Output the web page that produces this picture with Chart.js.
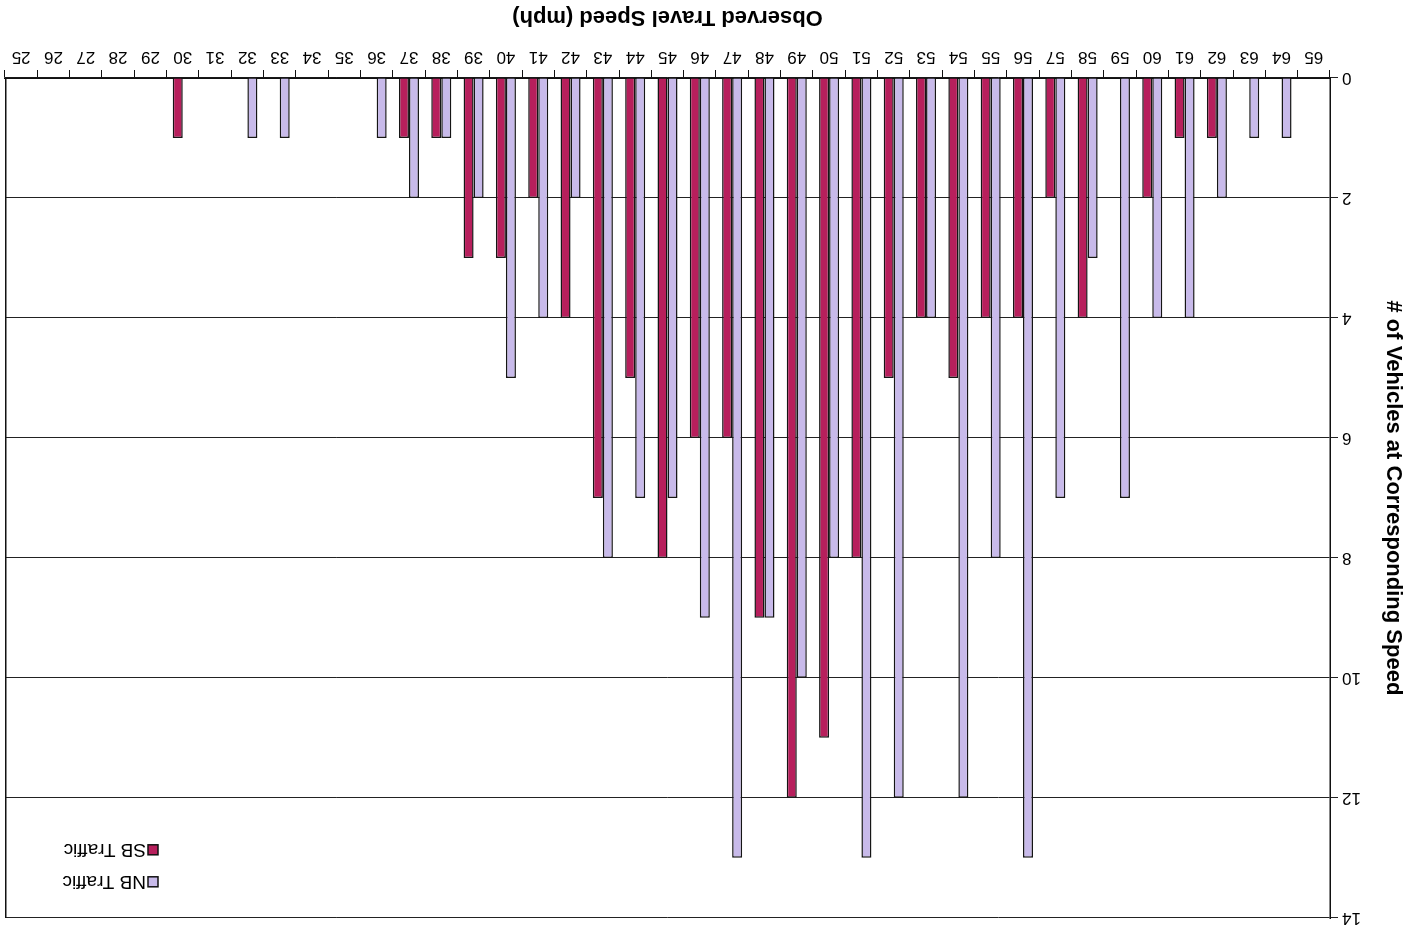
<!DOCTYPE html>
<html>
<head>
<meta charset="utf-8">
<title>Observed Travel Speed</title>
<script src="https://cdn.jsdelivr.net/npm/chart.js@4.4.0/dist/chart.umd.min.js"></script>
<style>
  html, body { margin: 0; padding: 0; background: #ffffff; overflow: hidden; }
  /* the whole figure is shown turned half a revolution */
  #wrap { width: 1424px; height: 932px; transform: rotate(180deg); transform-origin: 50% 50%; }
  canvas { display: block; }
</style>
</head>
<body>
<div id="wrap"><canvas id="speedChart" width="1424" height="932"></canvas></div>
<script>
// Observed speeds (mph), one category per mph
const speeds = ['25','26','27','28','29','30','31','32','33','34','35','36','37','38','39','40',
  '41','42','43','44','45','46','47','48','49','50','51','52','53','54','55','56','57','58','59',
  '60','61','62','63','64','65'];

// Northbound vehicle counts per speed
const nbTraffic = [0,0,0,0,0,0,0,1,1,0,0,1,2,1,2,5,
  4,2,8,7,7,9,13,9,10,8,13,12,4,12,8,13,7,3,7,
  4,4,2,1,1,0];

// Southbound vehicle counts per speed
const sbTraffic = [0,0,0,0,0,1,0,0,0,0,0,0,1,1,3,3,
  2,4,7,5,8,6,6,9,12,11,8,5,4,5,4,4,2,4,0,
  2,1,1,0,0,0];

// Count axis tick values
const countTicks = [0, 2, 4, 6, 8, 10, 12, 14];

const FONT = '"Liberation Sans", Arial, Helvetica, sans-serif';
Chart.defaults.font.family = FONT;
Chart.defaults.color = '#000000';

// Frame on the far side of the plot plus the in-plot legend box
const frameAndLegend = {
  id: 'frameAndLegend',
  afterDraw(chart) {
    const { ctx, chartArea: a } = chart;
    ctx.save();
    ctx.strokeStyle = '#111111';
    ctx.lineWidth = 1.5;
    ctx.beginPath();
    ctx.moveTo(a.right - 0.75, a.top);
    ctx.lineTo(a.right - 0.75, a.bottom);
    ctx.stroke();

    const x0 = a.right - 153;
    const y0 = a.top + 36;
    ctx.font = '19px ' + FONT;
    ctx.textBaseline = 'middle';
    ctx.textAlign = 'left';
    chart.data.datasets.forEach((ds, i) => {
      const y = y0 + i * 32;
      ctx.fillStyle = ds.backgroundColor;
      ctx.fillRect(x0, y - 5, 10, 10);
      ctx.lineWidth = 1.5;
      ctx.strokeStyle = '#111111';
      ctx.strokeRect(x0, y - 5, 10, 10);
      ctx.fillStyle = '#000000';
      ctx.fillText(ds.label, x0 + 12, y + 1);
    });
    ctx.restore();
  }
};

new Chart(document.getElementById('speedChart'), {
  type: 'bar',
  data: {
    labels: speeds,
    datasets: [
      {
        label: 'NB Traffic',
        data: nbTraffic,
        backgroundColor: '#c8baea',
        borderColor: '#151515',
        borderWidth: 1.5,
        categoryPercentage: 0.62,
        barPercentage: 1.0
      },
      {
        label: 'SB Traffic',
        data: sbTraffic,
        backgroundColor: '#b71f5c',
        borderColor: '#151515',
        borderWidth: 1.5,
        categoryPercentage: 0.62,
        barPercentage: 1.0
      }
    ]
  },
  options: {
    responsive: false,
    animation: false,
    devicePixelRatio: 1,
    layout: { padding: { top: 14, right: 5, left: 12, bottom: 0 } },
    plugins: {
      legend: { display: false },
      tooltip: { enabled: false }
    },
    scales: {
      x: {
        reverse: true,
        grid: {
          offset: true,
          drawOnChartArea: false,
          drawTicks: true,
          tickLength: 8,
          color: '#111111',
          lineWidth: 1
        },
        border: { display: true, color: '#111111', width: 1.5 },
        ticks: {
          font: { size: 17 },
          color: '#000000',
          padding: 3,
          maxRotation: 0,
          autoSkip: false
        },
        title: {
          display: true,
          text: 'Observed Travel Speed (mph)',
          font: { size: 22, weight: 'bold' },
          color: '#000000',
          padding: { top: 2, bottom: 4 }
        },
        afterFit(scale) { scale.height = 78; }
      },
      y: {
        min: 0,
        max: 14,
        afterBuildTicks(scale) { scale.ticks = countTicks.map(v => ({ value: v })); },
        grid: {
          color: '#222222',
          lineWidth: 1,
          drawTicks: true,
          tickLength: 8
        },
        border: { display: true, color: '#111111', width: 1.5 },
        ticks: {
          font: { size: 17 },
          color: '#000000',
          padding: 4
        },
        title: {
          display: true,
          text: '# of Vehicles at Corresponding Speed',
          font: { size: 22, weight: 'bold' },
          color: '#000000',
          padding: { top: 6, bottom: 0 }
        },
        afterFit(scale) { scale.width = 82; }
      }
    }
  },
  plugins: [frameAndLegend]
});
</script>
</body>
</html>
